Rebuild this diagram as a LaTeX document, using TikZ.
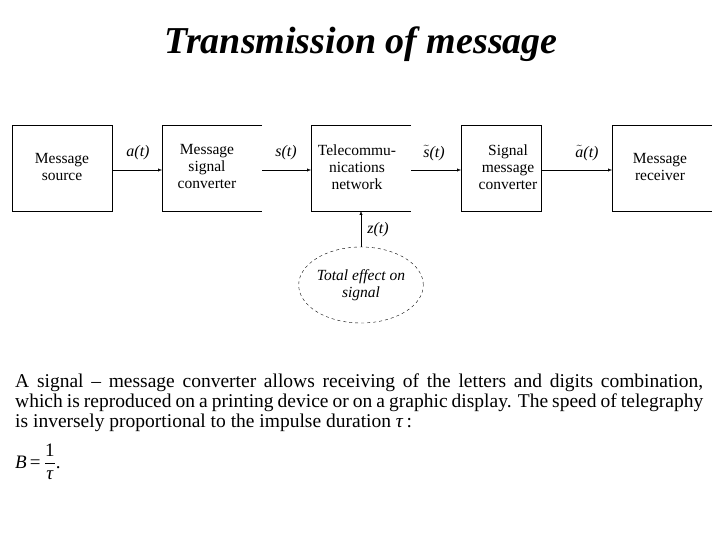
\documentclass[tikz,border=0pt]{standalone}
\usepackage{fontspec}
\setmainfont{Liberation Serif}
\usepackage{amsmath}
\usetikzlibrary{arrows.meta,shapes.geometric}
\begin{document}
\begin{tikzpicture}[x=1pt,y=-1pt,
  blk/.style={inner sep=0pt,align=center,font=\fontsize{15.5}{17}\selectfont},
  lab/.style={inner sep=1pt,font=\fontsize{16}{17}\selectfont\itshape},
  arr/.style={-{Latex[length=4pt,width=3pt]},line width=0.25pt}]
\useasboundingbox (0,0) rectangle (720,540);
\node[font=\fontsize{38}{42}\selectfont\bfseries\itshape] (title) at (361,44) {Transmission of message};
% boxes
\draw[line width=0.6pt] (12,125) rectangle (112,211);
\draw[line width=0.6pt] (262,125) -- (162,125) -- (162,211) -- (262,211);
\draw[line width=0.6pt] (411,125) -- (311,125) -- (311,211) -- (411,211);
\draw[line width=0.6pt] (461,125) rectangle (541,211);
\draw[line width=0.6pt] (712,125) -- (612,125) -- (612,211) -- (712,211);
\node[blk] (b1) at (62,167) {Message\\source};
\node[blk] (b2) at (207,167) {Message\\signal\\converter};
\node[blk] (b3) at (357,167) {Telecommu-\\nications\\network};
\node[blk] (b4) at (508,167) {Signal\\message\\converter};
\node[blk] (b5) at (660,167) {Message\\receiver};
\coordinate (o1) at (112,170); \coordinate (i2) at (162,170);
\coordinate (o2) at (262,170); \coordinate (i3) at (311,170);
\coordinate (o3) at (411,170); \coordinate (i4) at (461,170);
\coordinate (o4) at (541,170); \coordinate (i5) at (612,170);
\draw[arr] (o1) -- (i2); \draw[arr] (o2) -- (i3);
\draw[arr] (o3) -- (i4); \draw[arr] (o4) -- (i5);
\node[lab] (l1) at (138,153) {a(t)};
\node[lab] (l2) at (286,153) {s(t)};
\node[lab] (l3) at (434,153) {$\tilde{\text{\itshape s}}$(t)};
\node[lab] (l4) at (587,153) {$\tilde{\text{\itshape a}}$(t)};
\node[draw,dashed,ellipse,minimum width=124pt,minimum height=76pt,inner sep=0pt,align=center,font=\fontsize{15.5}{17}\selectfont\itshape] (e) at (361,285) {Total effect on\\signal};
\coordinate (b3b) at (361,211);
\draw[arr] (e.north) -- (b3b);
\node[lab] (lz) at (378,230) {z(t)};
\node[anchor=north west,text width=688pt,align=justify,inner sep=0pt,font=\fontsize{19.5}{20}\selectfont] (txt) at (15,374) {A signal -- message converter allows receiving of the letters and digits combination,\linebreak which is reproduced on a printing device or on a graphic display. The speed of telegraphy\linebreak is inversely proportional to the impulse duration \textit{τ}\,:};
\node[anchor=west,inner sep=0pt,font=\fontsize{19}{20}\selectfont] (f) at (15,462) {\textit{B}\,=\,$\dfrac{\text{1}}{\text{\itshape τ}}$.};
\end{tikzpicture}
\end{document}
